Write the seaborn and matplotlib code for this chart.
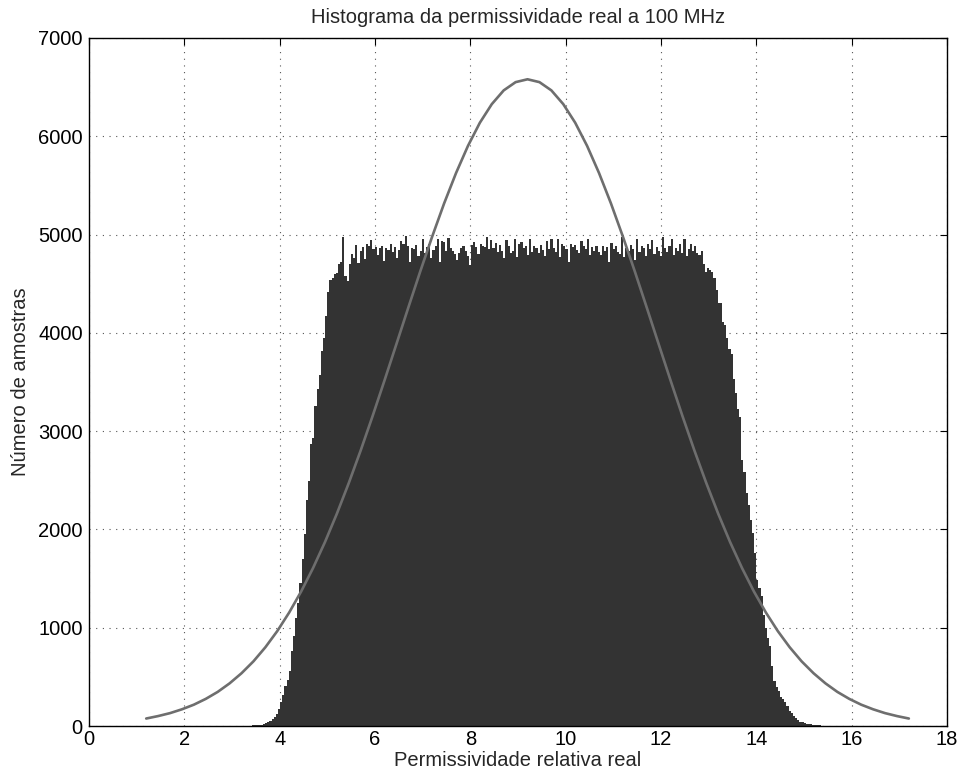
import numpy as np
import pandas as pd
import seaborn as sns
import matplotlib.pyplot as plt

# histogram: bin edges start / width and counts per bin
bin_start = 3.2
bin_width = 0.045
counts = [
    0, 0, 1, 2, 4, 6, 8, 10, 12, 15,
    20, 28, 38, 50, 70, 95, 125, 175, 240, 320,
    410, 470, 560, 760, 920, 1100, 1250, 1450, 1700, 1950,
    2300, 2490, 2870, 2930, 3260, 3430, 3570, 3820, 3950, 4170,
    4420, 4540, 4560, 4600, 4610, 4700, 4720, 4980, 4580, 4530,
    4700, 4800, 4760, 4890, 4710, 4830, 4870, 4750, 4900, 4880,
    4940, 4850, 4870, 4790, 4860, 4880, 4730, 4860, 4840, 4900,
    4820, 4870, 4760, 4840, 4930, 4900, 4990, 4880, 4720, 4860,
    4850, 4890, 4780, 4830, 4950, 4810, 4870, 4900, 4760, 4840,
    4880, 4960, 4720, 4930, 4920, 4830, 4970, 4860, 4830, 4800,
    4740, 4810, 4860, 4880, 4830, 4780, 4690, 4890, 4920, 4870,
    4800, 4900, 4880, 4870, 4980, 4850, 4940, 4860, 4910, 4820,
    4890, 4830, 4760, 4940, 4880, 4810, 4830, 4960, 4770, 4900,
    4920, 4860, 4880, 4790, 4950, 4820, 4880, 4860, 4810, 4890,
    4840, 4780, 4930, 4850, 4960, 4860, 4820, 4960, 4770, 4900,
    4880, 4850, 4720, 4900, 4870, 4890, 4840, 4810, 4930, 4880,
    4850, 4960, 4790, 4870, 4830, 4880, 4820, 4790, 4880, 4830,
    4870, 4720, 4910, 4850, 4880, 4820, 4800, 4980, 4770, 4860,
    4830, 4890, 4850, 4740, 4950, 4820, 4880, 4860, 4780, 4900,
    4850, 4940, 4800, 4870, 4830, 4780, 4980, 4860, 4820, 4880,
    4960, 4790, 4860, 4830, 4900, 4810, 4960, 4780, 4850, 4900,
    4830, 4880, 4810, 4790, 4830, 4700, 4620, 4660, 4640, 4620,
    4560, 4440, 4300, 4300, 4110, 4080, 3950, 3840, 3780, 3530,
    3390, 3230, 3140, 2710, 2580, 2370, 2250, 2100, 1960, 1760,
    1490, 1400, 1320, 1130, 1000, 900, 810, 610, 460, 400,
    356, 290, 275, 240, 200, 150, 132, 100, 80, 60,
    45, 38, 30, 24, 20, 16, 13, 10, 8, 6,
    5, 4, 3, 2, 2, 1, 1, 0, 0, 0,
]

# fitted curve, points every 0.25
curve_x = [1.2, 1.45, 1.7, 1.95, 2.2, 2.45, 2.7, 2.95, 3.2, 3.45, 3.7, 3.95, 4.2, 4.45,
           4.7, 4.95, 5.2, 5.45, 5.7, 5.95, 6.2, 6.45, 6.7, 6.95, 7.2, 7.45, 7.7, 7.95,
           8.2, 8.45, 8.7, 8.95, 9.2, 9.45, 9.7, 9.95, 10.2, 10.45, 10.7, 10.95, 11.2,
           11.45, 11.7, 11.95, 12.2, 12.45, 12.7, 12.95, 13.2, 13.45, 13.7, 13.95, 14.2,
           14.45, 14.7, 14.95, 15.2, 15.45, 15.7, 15.95, 16.2, 16.45, 16.7, 16.95, 17.2]
curve_y = [76, 101, 131, 170, 217, 276, 347, 434, 537, 658, 801, 966, 1155, 1368,
           1607, 1871, 2160, 2472, 2804, 3154, 3517, 3887, 4259, 4626, 4980, 5317,
           5626, 5902, 6138, 6327, 6467, 6551, 6580, 6551, 6467, 6327, 6138, 5902,
           5626, 5317, 4980, 4626, 4259, 3887, 3517, 3154, 2804, 2472, 2160, 1871,
           1607, 1368, 1155, 966, 801, 658, 537, 434, 347, 276, 217, 170, 131, 101, 76]

x_ticks = [0, 2, 4, 6, 8, 10, 12, 14, 16, 18]
y_ticks = [0, 1000, 2000, 3000, 4000, 5000, 6000, 7000]

sns.set_style("white")
plt.rcParams['font.family'] = ['Liberation Sans', 'DejaVu Sans']
plt.rcParams.update({'font.size': 14.5})

edges = bin_start + bin_width * np.arange(len(counts) + 1)
hist_df = pd.DataFrame({'x': (edges[:-1] + edges[1:]) / 2, 'n': counts})

fig = plt.figure(figsize=(9.59, 7.73), dpi=100)
ax = fig.add_axes([89 / 959, 1 - 726 / 773, 858 / 959, 688 / 773])

sns.histplot(data=hist_df, x='x', weights='n', bins=list(edges), color='#333333', alpha=1,
             linewidth=0, antialiased=False, ax=ax)
sns.lineplot(x=curve_x, y=curve_y, color='#6e6e6e', linewidth=1.9, ax=ax)

ax.set_xlim(0, 18)
ax.set_ylim(0, 7000)
ax.set_xticks(x_ticks)
ax.set_yticks(y_ticks)
ax.set_axisbelow(True)
ax.grid(True, linestyle=(0, (1, 5)), color='#555555', linewidth=0.8)
for s in ax.spines.values():
    s.set_color('black')
    s.set_linewidth(1.0)
    s.set_zorder(5)
ax.tick_params(direction='in', length=5, top=True, right=True, colors='black',
               labelsize=14.5)
ax.tick_params(axis='x', pad=3)
ax.tick_params(axis='y', pad=4.5)

ax.set_title('Histograma da permissividade real a 100 MHz', fontsize=14.5, pad=11)
ax.set_xlabel('Permissividade relativa real', fontsize=14.5, labelpad=1)
ax.set_ylabel('Número de amostras', fontsize=14.5, labelpad=6)

fig.savefig('out.png', dpi=100)
